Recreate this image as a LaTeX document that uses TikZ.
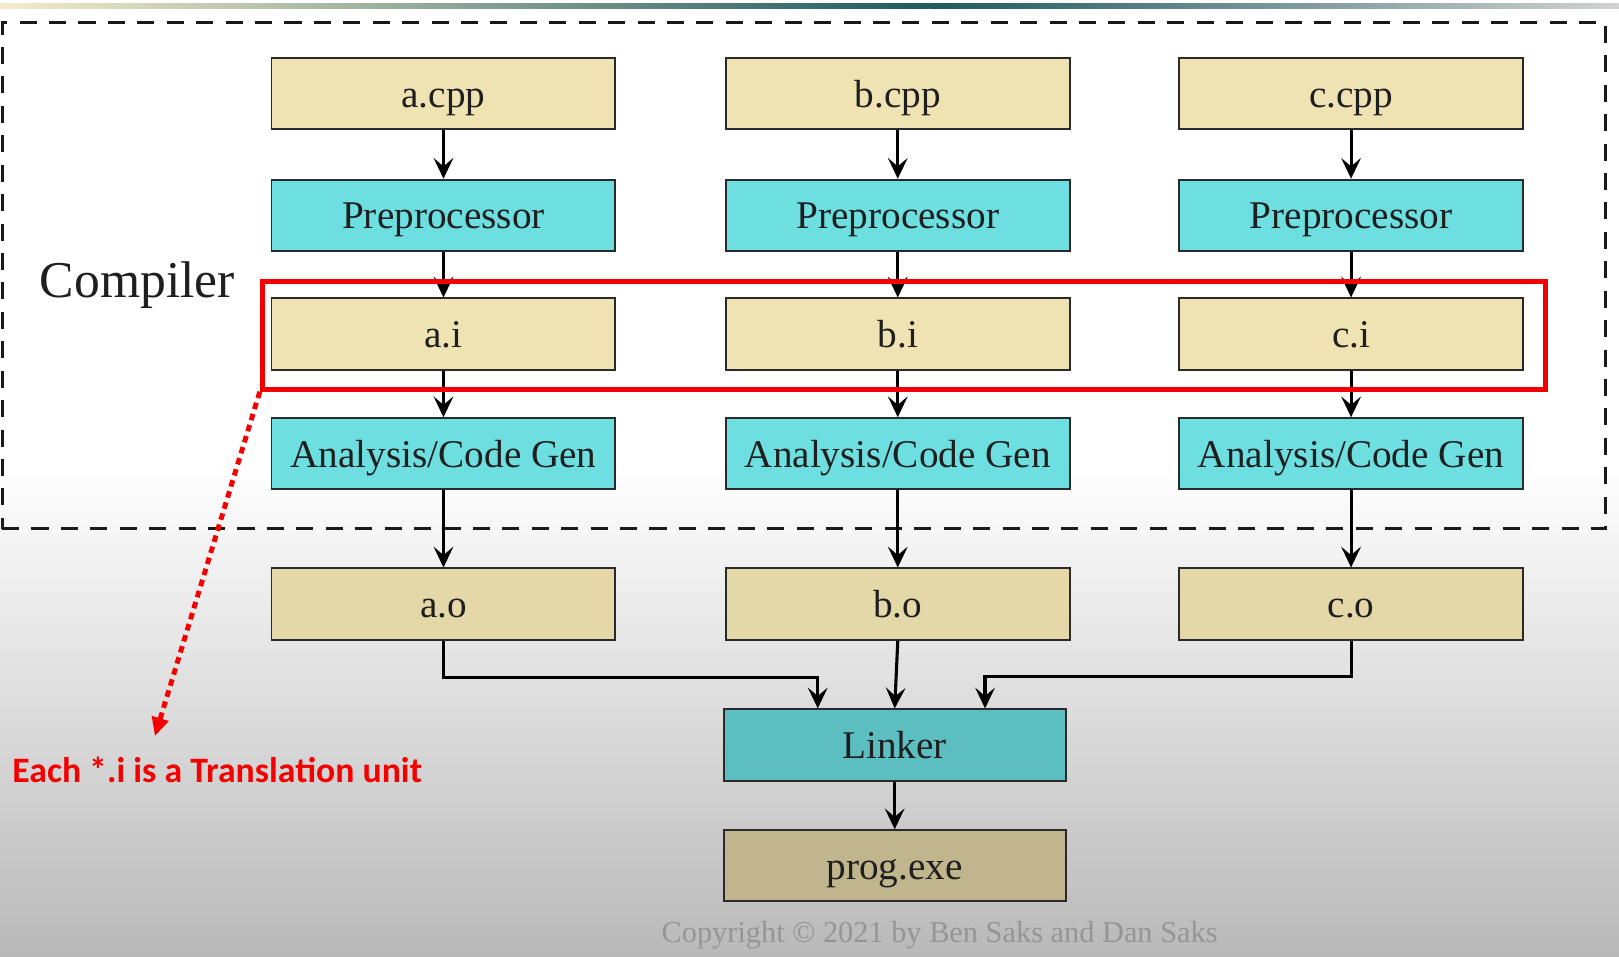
\documentclass[tikz,border=0pt]{standalone}
\usepackage{fontspec}
\setmainfont{Liberation Serif}
\newfontfamily\redfont{Carlito}
\usetikzlibrary{arrows.meta,calc}
\definecolor{beige}{HTML}{F0E3B3}
\definecolor{beigeo}{HTML}{E4D8A9}
\definecolor{cyanbox}{HTML}{6DDFE0}
\definecolor{linkc}{HTML}{5BBFC2}
\definecolor{progc}{HTML}{C0B58C}
\definecolor{boxline}{HTML}{2A2A2A}
\definecolor{copyc}{HTML}{959595}
\definecolor{redc}{HTML}{F40000}
\definecolor{stripteal}{HTML}{1E5A60}
\begin{document}
\begin{tikzpicture}[x=0.5pt,y=-0.5pt,
  box/.style={draw=boxline, line width=0.9pt, minimum width=166.5pt, minimum height=34.5pt,
    inner sep=0pt, font=\fontsize{19}{22}\selectfont, text height=13.2pt, text depth=0pt, text=black!88},
  arr/.style={line width=1.5pt, -{Stealth[length=10pt,width=9.5pt,inset=4pt]}},
  dashframe/.style={draw=black!90, line width=1.5pt, dash pattern=on 8.25pt off 6pt, inner sep=0pt},
  redframe/.style={draw=redc, line width=2.4pt, inner sep=0pt},
  reddot/.style={draw=redc, line width=2.4pt, dash pattern=on 3.2pt off 2.4pt,
    -{Triangle[length=9pt,width=8pt]}}]
% background
\useasboundingbox (0,0) rectangle (1568,926);
\fill[white] (0,0) rectangle (1568,926);
\shade[top color=white, bottom color=gray!55] (0,450) rectangle (1568,926);
\shade[left color=beige!70, right color=stripteal] (0,3) rectangle (900,8);
\shade[left color=stripteal, right color=gray!35] (900,3) rectangle (1568,8);
% compiler frame
\node[dashframe, minimum width=776.5pt, minimum height=245pt] (frame) at (778.5,267) {};
\node[font=\fontsize{25}{30}\selectfont, text=black!88] (comp) at (133,276) {Compiler};
% columns
\foreach \c/\n/\x in {a/a/429.5, b/b/869.5, c/c/1308.5}{
  \node[box, fill=beige]   (\c-cpp) at (\x,90.5)  {\n.cpp};
  \node[box, fill=cyanbox] (\c-pre) at (\x,208.5) {Preprocessor};
  \node[box, fill=beige]   (\c-i)   at (\x,323.5) {\n.i};
  \node[box, fill=cyanbox] (\c-an)  at (\x,439.5) {Analysis/Code Gen};
  \node[box, fill=beigeo]  (\c-o)   at (\x,585)   {\n.o};
}
\node[box, fill=linkc, minimum width=165.5pt] (link) at (866.5,721.5) {Linker};
\node[box, fill=progc, minimum width=165.5pt] (prog) at (866.5,838.5) {prog.exe};
% arrows
\foreach \c in {a,b,c}{
  \draw[arr] (\c-cpp) -- (\c-pre);
  \draw[arr] (\c-pre) -- (\c-i);
  \draw[arr] (\c-i) -- (\c-an);
  \draw[arr] (\c-an) -- (\c-o);
}
\draw[arr] (a-o.south) -- ++(0,36) -| ($(link.north)+(-74.5,0)$);
\draw[arr] (b-o.south) -- (link.north);
\draw[arr] (c-o.south) -- ++(0,35) -| ($(link.north)+(87.5,0)$);
\draw[arr] (link) -- (prog);
% red annotation
\node[redframe, minimum width=621.5pt, minimum height=52pt] (tubox) at (875.5,325) {};
\coordinate (tip) at (150,713);
\draw[reddot] (tubox.south west) -- (tip);
\node[anchor=west, text=redc, font=\redfont\bfseries\fontsize{17.3}{20}\selectfont] (tu) at (5,746) {Each *.i is a Translation unit};
% copyright
\node[text=copyc, font=\fontsize{14.7}{17}\selectfont] (copy) at (910,906) {Copyright © 2021 by Ben Saks and Dan Saks};
\end{tikzpicture}
\end{document}
